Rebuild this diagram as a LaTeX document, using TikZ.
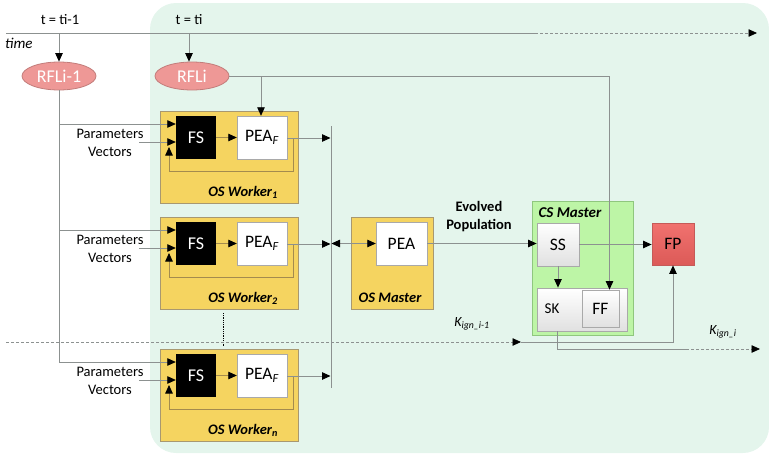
\documentclass[tikz,border=0pt]{standalone}
\usepackage{fontspec}
\setmainfont{Carlito}
\usetikzlibrary{arrows.meta,shapes.geometric,calc}

\definecolor{mintbg}{HTML}{E4F5EC}
\definecolor{gold}{HTML}{F5D460}
\definecolor{goldedge}{HTML}{A89870}
\definecolor{goldline}{HTML}{A48B4E}
\definecolor{conngray}{HTML}{8C9190}
\definecolor{rflfill}{HTML}{EE9896}
\definecolor{rfledge}{HTML}{C27C7A}
\definecolor{csfill}{HTML}{BDF5A6}
\definecolor{csedge}{HTML}{8FC77E}
\definecolor{greybox}{HTML}{A9A9A9}
\definecolor{fpfill}{HTML}{EF625F}
\definecolor{fpedge}{HTML}{C55A58}

\tikzset{
  >={Triangle[length=8.5pt,width=7.5pt,color=black]},
  conn/.style={draw=conngray, line width=0.8pt},
  wline/.style={draw=goldline, line width=0.8pt},
  wbox/.style={draw=goldedge, fill=gold, line width=0.8pt, inner sep=0pt},
  fsbox/.style={fill=black, text=white, minimum width=40pt, minimum height=43pt,
    inner sep=0pt, font=\fontsize{18}{20}\selectfont},
  peabox/.style={draw=greybox, fill=white, minimum width=50pt, minimum height=43pt,
    inner sep=0pt, font=\fontsize{17.5}{20}\selectfont},
  plabel/.style={inner sep=0pt, font=\fontsize{14.5}{16}\selectfont},
  wlabel/.style={inner sep=0pt, font=\fontsize{14.5}{16}\selectfont\bfseries\itshape},
  rfl/.style={ellipse, draw=rfledge, fill=rflfill, text=white, line width=0.8pt,
    minimum width=74pt, minimum height=28pt, inner sep=0pt,
    font=\fontsize{18}{20}\selectfont},
  gbox/.style={draw=greybox, top color=white, bottom color=black!12, line width=0.8pt,
    inner sep=0pt, font=\fontsize{17.5}{20}\selectfont},
  klabel/.style={inner sep=0pt, font=\fontsize{14}{16}\selectfont\itshape},
}

\begin{document}
\begin{tikzpicture}[x=1pt,y=-1pt]
\useasboundingbox (0,0) rectangle (769,453);

% shaded region of the current step
\fill[mintbg, rounded corners=26pt] (150,3) rectangle (769,453);

% time axis
\draw[conn] (6,33) -- (535,33);
\draw[conn, densely dashed, ->] (535,33) -- (757,33);
\node[plabel, anchor=center] (tprev) at (60,20) {t = ti-1};
\node[plabel, anchor=center] (tcur) at (189,20) {t = ti};
\node[klabel, font=\fontsize{15}{17}\selectfont\itshape, anchor=west] (timel) at (5,43) {time};
\coordinate (tA) at (59,33);
\coordinate (tB) at (189,33);

% RFL ellipses
\node[rfl] (rfl1) at (59,76) {RFLi-1};
\node[rfl] (rfl2) at (192,76) {RFLi};
\draw[conn, ->] (tA) -- (rfl1);
\draw[conn, ->] (tB) -- (tB |- rfl2.north);

% RFLi-1 feeds every worker
\coordinate (rflend) at (59,362);
\draw[conn] (rfl1.south) -- (rflend);

% gathering bus
\coordinate (busT) at (331,126);
\coordinate (busB) at (331,388);
\draw[conn] (busT) -- (busB);

% OS workers
\foreach \t/\s/\n in {111/1/1, 217/2/2, 349/n/n} {
  \node[wbox, minimum width=138pt, minimum height=92pt] (w\n) at (229,\t+46) {};
  \node[fsbox] (fs\n) at (196,\t+26.5) {FS};
  \node[peabox] (pea\n) at (262,\t+26.5) {PEA\textsubscript{\textit{F}}};
  \node[wlabel] (wl\n) at (243,\t+81) {OS Worker\textsubscript{\s}};
  \node[plabel] (pl\n) at (110,\t+23) {Parameters};
  \node[plabel] (vl\n) at (110,\t+41) {Vectors};
  \coordinate (pin\n) at (59,\t+13);
  \coordinate (vin\n) at (139,\t+31);
  \draw[conn, ->] (pin\n) -- (pin\n -| fs\n.west);
  \draw[conn, ->] (vin\n) -- (vin\n -| fs\n.west);
  \draw[wline, ->] (fs\n) -- (pea\n);
  \draw[wline, ->] (293,\t+27) |- (169,\t+60) -- (169,\t+36);
  \draw[conn, ->] (pea\n.east |- 0,\t+27) -- (330.5,\t+27);
}
\draw[densely dotted, line width=0.8pt] (223,313) -- (223,346);

% RFLi towards worker 1 and the CS master
\coordinate (rbr) at (261,76);

% OS master
\node[wbox, minimum width=82pt, minimum height=92pt] (osm) at (392,263) {};
\node[peabox, minimum width=51pt] (pea) at (401.5,243.5) {PEA};
\node[wlabel] (osml) at (390,298) {OS Master};
\coordinate (busM) at (331.5,243.5);
\draw[conn, <->] (busM) -- (pea.west);

\node[inner sep=0pt, align=center, font=\fontsize{14.5}{18}\selectfont\bfseries] (evo) at (479,217) {Evolved\\Population};

% CS master
\node[draw=csedge, fill=csfill, line width=0.8pt, minimum width=101pt, minimum height=134pt, inner sep=0pt] (csm) at (582.5,268) {};
\node[wlabel, font=\fontsize{15}{17}\selectfont\bfseries\itshape] (csml) at (570,213) {CS Master};
\node[gbox, minimum width=42pt, minimum height=43pt] (ss) at (558,244.5) {SS};
\node[gbox, minimum width=90pt, minimum height=43pt] (sk) at (582,309.5) {};
\node[inner sep=0pt, font=\fontsize{15}{17}\selectfont] (skl) at (552,309) {SK};
\node[gbox, minimum width=37pt, minimum height=37pt] (ff) at (600.5,308.5) {FF};
\node[draw=fpedge, top color=fpfill!90!white, bottom color=fpfill!92!black, line width=0.8pt,
  minimum width=42pt, minimum height=42pt, inner sep=0pt, font=\fontsize{17.5}{20}\selectfont] (fp) at (673,244) {FP};

\draw[conn, ->] (pea.east) -- (pea.east -| ss.west);
\draw[conn, ->] (ss.south) -- (ss.south |- sk.north);
\draw[conn, ->] (ss.east) -- (ss.east -| fp.west);

\draw[conn] (rfl2.east) -- (rbr);
\draw[conn, ->] (rbr) -- (rbr |- pea1.north);
\draw[conn, ->] (rbr) -| ([xshift=9pt]ff.north);

% K_ign feedback
\coordinate (kA) at (6,342);
\coordinate (kB) at (521,342);
\draw[conn, densely dashed, ->] (kA) -- (kB);
\draw[conn, ->] (kB) -| (fp.south);
\node[klabel] (kprev) at (472,324) {K\textsubscript{ign\_i-1}};

\coordinate (skA) at ([xshift=-25pt]sk.south);
\coordinate (skB) at (686,349);
\draw[conn] (skA) |- (skB);
\draw[conn, densely dashed, ->] (skB) -- (760,349);
\node[klabel] (kcur) at (723,332) {K\textsubscript{ign\_i}};
\end{tikzpicture}
\end{document}
